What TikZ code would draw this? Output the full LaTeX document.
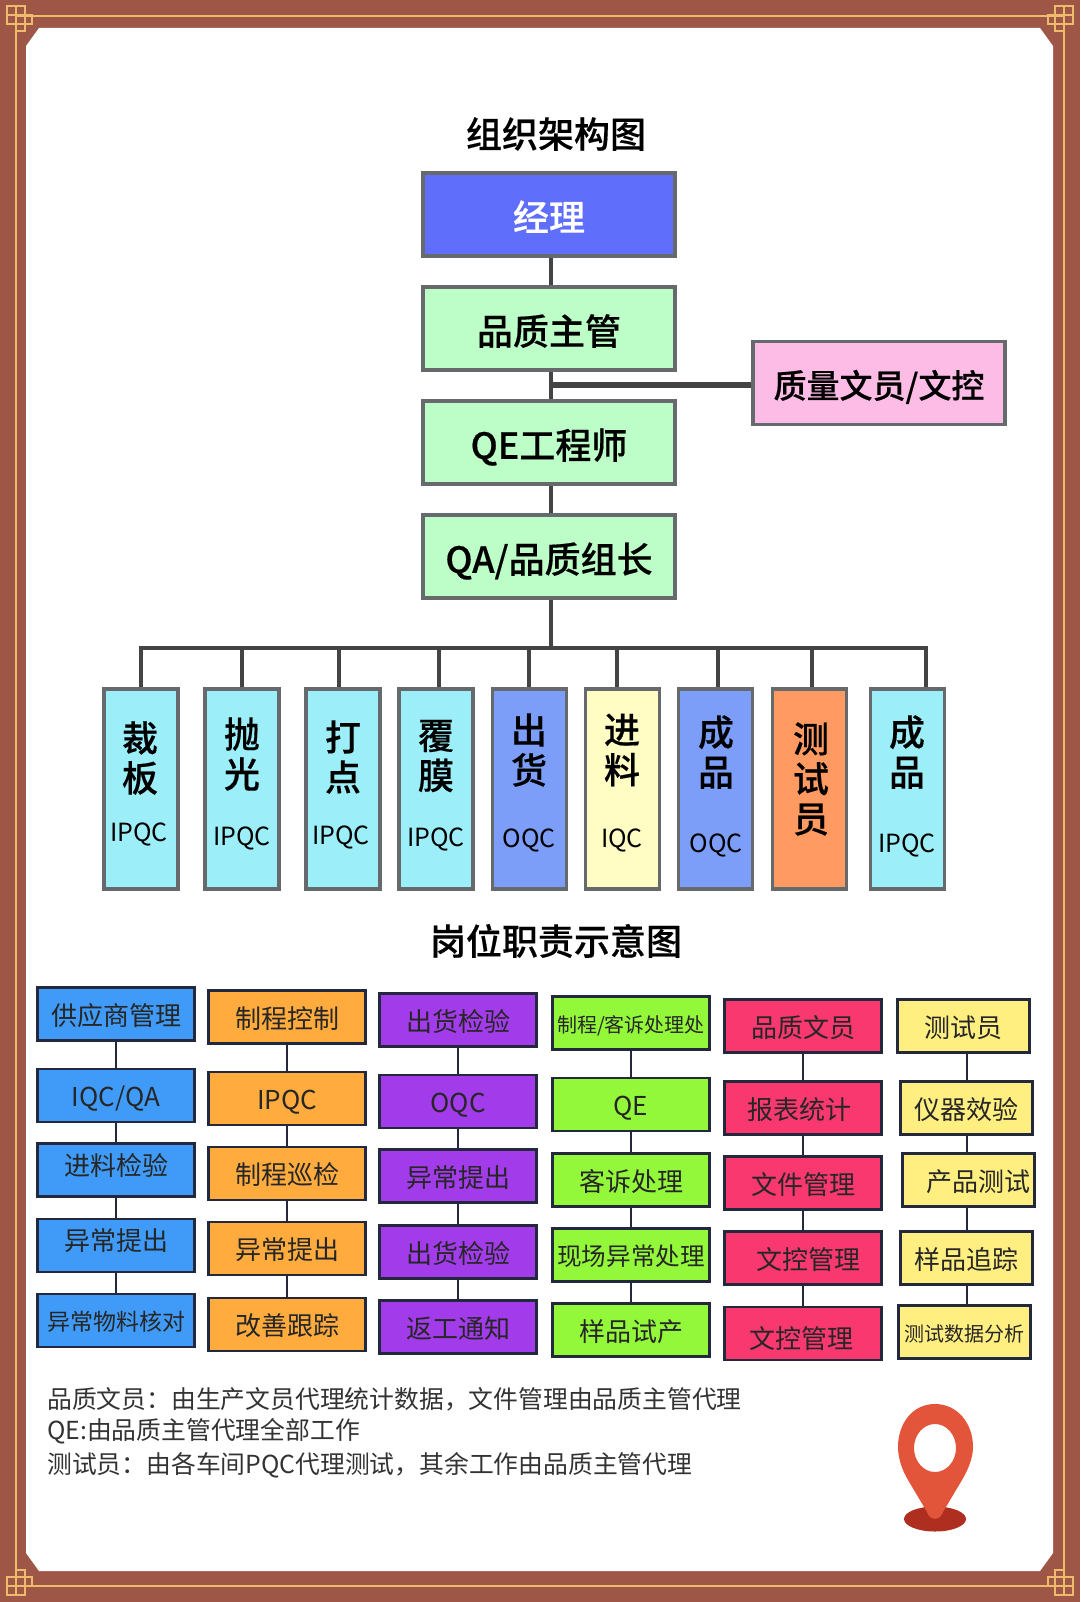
\documentclass[tikz,border=0pt]{standalone}
\usepackage{fontspec}
\setmainfont{Noto Sans CJK SC}
\newfontfamily\medfont[UprightFont=* Medium,FakeBold=0.4]{Noto Sans CJK SC}

\definecolor{framered}{HTML}{9E5646}
\definecolor{framegold}{HTML}{EDBB6A}
\definecolor{topline}{HTML}{666A6C}
\definecolor{linkdark}{HTML}{444444}
\definecolor{dutyline}{HTML}{24283C}
\definecolor{pinred}{HTML}{E2553A}
\definecolor{pindark}{HTML}{AE2F20}
\definecolor{mgrblue}{HTML}{5F6EFB}
\definecolor{mintbox}{HTML}{BDFDC8}
\definecolor{pinkbox}{HTML}{FDBCE6}
\definecolor{cyanbox}{HTML}{9CEEF8}
\definecolor{oqcblue}{HTML}{7C9EF8}
\definecolor{creambox}{HTML}{FFFCC4}
\definecolor{peachbox}{HTML}{FF9A62}
\definecolor{dutyblue}{HTML}{3F9BF7}
\definecolor{dutyorange}{HTML}{FFAB3D}
\definecolor{dutypurple}{HTML}{A23BEA}
\definecolor{dutygreen}{HTML}{93F73A}
\definecolor{dutyred}{HTML}{F8386F}
\definecolor{dutyyellow}{HTML}{FFEE80}

\tikzset{
  knot/.pic={
    \draw[framegold,line width=1.6pt] (-9,-9) rectangle (9,9) (0,-9) -- (0,16) (-9,0) -- (16,0)
      (9,0) -- (16,0) -- (16,9) -- (0,9) (0,9) -- (0,16) -- (9,16) -- (9,0);
  }
}

\begin{document}
\begin{tikzpicture}[x=1pt,y=-1pt,auto]
  \tikzstyle{heading}=[inner sep=0pt,font=\fontsize{36}{40}\selectfont\medfont]
  \tikzstyle{topbox}=[draw=topline,line width=3.5pt,inner sep=0pt,minimum width=252pt,minimum height=83pt,text height=32.6pt,text depth=0pt,font=\fontsize{36}{40}\selectfont\medfont]
  \tikzstyle{postbox}=[draw=topline,line width=3.5pt,inner sep=0pt,minimum width=74pt,minimum height=200pt]
  \tikzstyle{posthan}=[inner sep=0pt,align=center,font=\fontsize{36}{40}\selectfont\medfont]
  \tikzstyle{postlat}=[inner sep=0pt,font=\fontsize{25}{28}\selectfont]
  \tikzstyle{duty}=[draw=dutyline,line width=2.2pt,inner sep=0pt,minimum width=157pt,minimum height=53pt,text height=22.8pt,text depth=0pt,text=black!85,font=\fontsize{26}{30}\selectfont]
  \tikzstyle{dutysix}=[duty,minimum width=132pt,fill=dutyyellow]
  \tikzstyle{note}=[inner sep=0pt,anchor=west,text=black!80,font=\fontsize{24.8}{28}\selectfont]
  \tikzstyle{biglink}=[draw=linkdark,line width=4.5pt]
  \tikzstyle{smalllink}=[draw=dutyline,line width=2pt]

  \useasboundingbox (0,0) rectangle (1080,1602);
  \fill[framered] (0,0) rectangle (1080,1602);
  \fill[white] (39,28) -- (1040,28) -- (1053,46) -- (1053,1553) -- (1040,1571) -- (39,1571) -- (26,1553) -- (26,46) -- cycle;
  \draw[framegold,line width=1.6pt] (16,16) rectangle (1064,1586);
  \pic at (16,15) {knot};
  \pic[xscale=-1] at (1064,15) {knot};
  \pic[yscale=-1] at (16,1586) {knot};
  \pic[xscale=-1,yscale=-1] at (1064,1586) {knot};

  \node[heading] (orgtitle) at (556,134) {组织架构图};
  \node[heading] (dutytitle) at (556,941) {岗位职责示意图};

  \node[topbox,fill=mgrblue,text=white] (mgr) at (549,214.5) {经理};
  \node[topbox,fill=mintbox] (sup) at (549,328.5) {品质主管};
  \node[topbox,fill=mintbox] (qe) at (549,442.5) {QE工程师};
  \node[topbox,fill=mintbox] (qa) at (549,556.5) {QA/品质组长};
  \node[topbox,fill=pinkbox,text height=30pt,font=\fontsize{33}{40}\selectfont\medfont] (docs) at (879,383) {质量文员/文控};

  \node[postbox,fill=cyanbox] (cut) at (141,789) {};
  \node[postbox,fill=cyanbox] (pol) at (242,789) {};
  \node[postbox,fill=cyanbox] (dot) at (343,789) {};
  \node[postbox,fill=cyanbox] (film) at (436,789) {};
  \node[postbox,fill=oqcblue] (ship) at (529.5,789) {};
  \node[postbox,fill=creambox] (feed) at (622.5,789) {};
  \node[postbox,fill=oqcblue] (fin) at (715.5,789) {};
  \node[postbox,fill=peachbox] (tester) at (809.5,789) {};
  \node[postbox,fill=cyanbox] (finp) at (907.5,789) {};

  \node[posthan] (cuta) at (140,758) {裁\\板};
  \node[postlat] (cutb) at (139,834) {IPQC};
  \node[posthan] (pola) at (242,754) {抛\\光};
  \node[postlat] (polb) at (242,838) {IPQC};
  \node[posthan] (dota) at (343,757) {打\\点};
  \node[postlat] (dotb) at (341,837) {IPQC};
  \node[posthan] (filma) at (436,756) {覆\\膜};
  \node[postlat] (filmb) at (436,839) {IPQC};
  \node[posthan] (shipa) at (529,750) {出\\货};
  \node[postlat] (shipb) at (529,840) {OQC};
  \node[posthan] (feeda) at (622,750) {进\\料};
  \node[postlat] (feedb) at (622,840) {IQC};
  \node[posthan] (fina) at (716,752) {成\\品};
  \node[postlat] (finb) at (716,845) {OQC};
  \node[posthan] (testera) at (811,779) {测\\试\\员};
  \node[posthan] (finpa) at (907,752) {成\\品};
  \node[postlat] (finpb) at (907,845) {IPQC};

  \coordinate (busl) at (141,648);
  \coordinate (busr) at (926,648);
  \coordinate (busm) at (551,648);
  \coordinate (bus2) at (242,648);
  \coordinate (bus3) at (339,648);
  \coordinate (bus4) at (439,648);
  \coordinate (bus5) at (529,648);
  \coordinate (bus6) at (617,648);
  \coordinate (bus7) at (718,648);
  \coordinate (bus8) at (812,648);
  \coordinate (jn) at (551,385);

  \path[biglink] (mgr.south -| busm) edge (sup.north -| busm)
        (sup.south -| busm) edge (qe.north -| busm)
        (qe.south -| busm) edge (qa.north -| busm)
        (qa.south -| busm) edge (busm)
        (jn) edge[line width=5.5pt] (jn -| docs.west)
        ([xshift=-2.25pt]busl) edge ([xshift=2.25pt]busr)
        (busl) edge (busl |- cut.north)
        (bus2) edge (bus2 |- pol.north)
        (bus3) edge (bus3 |- dot.north)
        (bus4) edge (bus4 |- film.north)
        (bus5) edge (bus5 |- ship.north)
        (bus6) edge (bus6 |- feed.north)
        (bus7) edge (bus7 |- fin.north)
        (bus8) edge (bus8 |- tester.north)
        (busr) edge (busr |- finp.north);

  \node[duty,fill=dutyblue] (a1) at (116,1014) {供应商管理};
  \node[duty,fill=dutyblue] (a2) at (116,1095.5) {IQC/QA};
  \node[duty,fill=dutyblue,text height=10pt] (a3) at (116,1170) {进料检验};
  \node[duty,fill=dutyblue,text height=10pt] (a4) at (116,1245.5) {异常提出};
  \node[duty,fill=dutyblue,text height=20.4pt,font=\fontsize{23}{30}\selectfont] (a5) at (116,1320.5) {异常物料核对};

  \node[duty,fill=dutyorange] (b1) at (287,1017) {制程控制};
  \node[duty,fill=dutyorange] (b2) at (287,1098.5) {IPQC};
  \node[duty,fill=dutyorange] (b3) at (287,1173.5) {制程巡检};
  \node[duty,fill=dutyorange] (b4) at (287,1248.5) {异常提出};
  \node[duty,fill=dutyorange] (b5) at (287,1324.5) {改善跟踪};

  \node[duty,fill=dutypurple] (c1) at (458,1020) {出货检验};
  \node[duty,fill=dutypurple] (c2) at (458,1101.5) {OQC};
  \node[duty,fill=dutypurple] (c3) at (458,1176) {异常提出};
  \node[duty,fill=dutypurple] (c4) at (458,1252) {出货检验};
  \node[duty,fill=dutypurple] (c5) at (458,1327) {返工通知};

  \node[duty,fill=dutygreen,text height=19pt,font=\fontsize{20}{30}\selectfont] (d1) at (631,1023) {制程/客诉处理处};
  \node[duty,fill=dutygreen] (d2) at (631,1104.5) {QE};
  \node[duty,fill=dutygreen] (d3) at (631,1180) {客诉处理};
  \node[duty,fill=dutygreen,text height=21.6pt,font=\fontsize{24.6}{30}\selectfont] (d4) at (631,1255) {现场异常处理};
  \node[duty,fill=dutygreen] (d5) at (631,1330) {样品试产};

  \node[duty,fill=dutyred] (e1) at (803,1026) {品质文员};
  \node[duty,fill=dutyred] (e2) at (803,1108) {\hspace*{-8pt}报表统计};
  \node[duty,fill=dutyred] (e3) at (803,1183) {文件管理};
  \node[duty,fill=dutyred] (e4) at (803,1258) {\hspace*{10pt}文控管理};
  \node[duty,fill=dutyred,text height=30pt] (e5) at (803,1333.5) {\hspace*{-4pt}文控管理};

  \node[dutysix] (f1) at (963.5,1026) {测试员};
  \node[dutysix] (f2) at (966.5,1108) {仪器效验};
  \node[dutysix] (f3) at (968.5,1180) {\hspace*{19pt}产品测试};
  \node[dutysix] (f4) at (966.5,1258) {样品追踪};
  \node[dutysix,text height=19pt,font=\fontsize{20}{30}\selectfont] (f5) at (964.5,1332) {测试数据分析};

  \coordinate (fx) at (967,0);

  \path[smalllink] (a1) edge (a2) (a2) edge (a3) (a3) edge (a4) (a4) edge (a5)
        (b1) edge (b2) (b2) edge (b3) (b3) edge (b4) (b4) edge (b5)
        (c1) edge (c2) (c2) edge (c3) (c3) edge (c4) (c4) edge (c5)
        (d1) edge (d2) (d2) edge (d3) (d3) edge (d4) (d4) edge (d5)
        (e1) edge (e2) (e2) edge (e3) (e3) edge (e4) (e4) edge (e5)
        (f1.south -| fx) edge (f2.north -| fx) (f2.south -| fx) edge (f3.north -| fx)
        (f3.south -| fx) edge (f4.north -| fx) (f4.south -| fx) edge (f5.north -| fx);

  \node[note] (note1) at (47,1399) {品质文员：由生产文员代理统计数据，文件管理由品质主管代理};
  \node[note] (note2) at (47,1431) {QE:由品质主管代理全部工作};
  \node[note] (note3) at (47,1465) {测试员：由各车间PQC代理测试，其余工作由品质主管代理};

  % pin
  \fill[pindark] (935,1519) ellipse [x radius=31,y radius=12.5];
  \fill[pinred,even odd rule] (935,1404) .. controls (958,1404) and (973,1424) .. (973,1447)
    .. controls (973,1458) and (968,1470) .. (962,1480) -- (943,1512)
    .. controls (940,1521) and (930,1521) .. (927,1512) -- (908,1480)
    .. controls (902,1470) and (898,1458) .. (898,1447)
    .. controls (898,1424) and (912,1404) .. (935,1404) -- cycle
    (935,1448) ellipse [x radius=21,y radius=24];
\end{tikzpicture}
\end{document}
